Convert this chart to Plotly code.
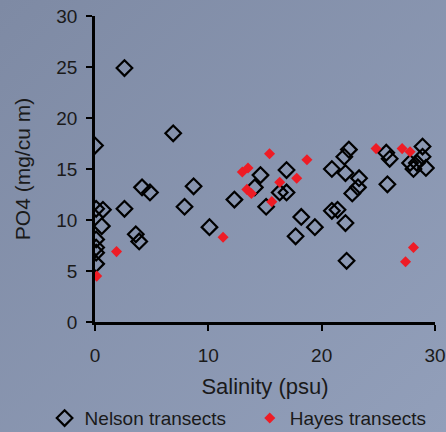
import base64
import plotly.graph_objects as go

# Nelson transects (open diamonds)
nelson_salinity = [0.0, 2.6, 6.9, 0.1, 0.7, 2.6, 4.15, 4.85, 8.7, 7.9, 10.1, 0.6, 0.1, 0.1, 0.1, 0.1,
                   3.6, 3.9, 14.6, 14.1, 16.9, 16.3, 16.9, 15.1, 12.3, 18.2, 19.4, 17.7,
                   22.4, 22.0, 20.9, 22.1, 23.3, 23.2, 22.7, 25.8, 25.7, 26.0, 28.9, 28.9,
                   28.4, 28.1, 29.2, 27.8, 20.9, 21.4, 22.1, 22.2]
nelson_po4 = [17.3, 24.9, 18.5, 11.1, 11.0, 11.1, 13.2, 12.7, 13.3, 11.3, 9.3, 9.4, 8.1, 7.3, 6.8, 5.7,
              8.6, 7.9, 14.4, 13.2, 14.9, 12.7, 12.7, 11.3, 12.0, 10.3, 9.3, 8.4,
              16.9, 16.2, 15.0, 14.6, 14.1, 13.2, 12.6, 13.5, 16.6, 16.0, 17.2, 16.2,
              15.6, 15.0, 15.1, 15.6, 10.9, 11.0, 9.7, 6.0]

# Hayes transects (filled red diamonds)
hayes_salinity = [0.15, 1.9, 11.3, 13.0, 13.5, 13.4, 13.8, 15.4, 15.6, 16.3, 17.8, 18.7,
                  24.8, 27.1, 27.8, 28.1, 27.4]
hayes_po4 = [4.5, 6.9, 8.3, 14.7, 15.1, 13.0, 12.6, 16.5, 11.8, 13.7, 14.1, 15.9,
             17.0, 17.0, 16.7, 7.3, 5.9]

x_ticks = [0, 10, 20, 30]
y_ticks = [0, 5, 10, 15, 20, 25, 30]

font = "Liberation Sans, Arial, sans-serif"

svg = ('<svg xmlns="http://www.w3.org/2000/svg" width="446" height="432">'
       '<defs><linearGradient id="g" x1="0" y1="0" x2="1" y2="1">'
       '<stop offset="0" stop-color="#7E8AA4"/><stop offset="1" stop-color="#929FBA"/>'
       '</linearGradient></defs><rect width="446" height="432" fill="url(#g)"/></svg>')
bg_uri = "data:image/svg+xml;base64," + base64.b64encode(svg.encode()).decode()

fig = go.Figure()
fig.add_trace(go.Scatter(
    x=nelson_salinity, y=nelson_po4, mode="markers", name="Nelson transects",
    marker=dict(symbol="diamond-open", size=12, color="#000000", line=dict(width=2.2, color="#000000")),
    legend="legend",
))
fig.add_trace(go.Scatter(
    x=hayes_salinity, y=hayes_po4, mode="markers", name="Hayes transects",
    marker=dict(symbol="diamond", size=8.5, color="#EE1C25", line=dict(width=0)),
    legend="legend2",
))

leg_common = dict(orientation="h", xref="container", yref="container",
                  xanchor="left", y=0.032, yanchor="middle",
                  bgcolor="rgba(0,0,0,0)", font=dict(size=19), itemwidth=30)

fig.update_layout(
    width=446, height=432,
    margin=dict(l=95, r=11, t=16, b=110, autoexpand=False),
    paper_bgcolor="#8893AD",
    plot_bgcolor="rgba(0,0,0,0)",
    font=dict(family=font, size=19, color="#1a1a1a"),
    showlegend=True,
    legend=dict(x=0.10, **leg_common),
    legend2=dict(x=0.56, **leg_common),
    images=[dict(source=bg_uri, xref="paper", yref="paper", x=-95/340, y=1 + 16/306,
                 sizex=446/340, sizey=432/306, xanchor="left", yanchor="top",
                 sizing="stretch", layer="below")],
)
fig.update_xaxes(
    range=[0, 30], tickvals=x_ticks, ticktext=[str(v) for v in x_ticks],
    showgrid=False, zeroline=False, showline=True, linecolor="#000000", linewidth=2.5,
    ticks="outside", ticklen=6, tickwidth=2, tickcolor="#000000",
    title=dict(text="Salinity (psu)", font=dict(size=22), standoff=18),
    tickfont=dict(size=19), ticklabelstandoff=8,
)
fig.update_yaxes(
    range=[0, 30], tickvals=y_ticks, ticktext=[str(v) for v in y_ticks],
    showgrid=False, zeroline=False, showline=True, linecolor="#000000", linewidth=2.5,
    ticks="outside", ticklen=6, tickwidth=2, tickcolor="#000000",
    title=dict(text="PO4 (mg/cu m)", font=dict(size=21), standoff=20),
    tickfont=dict(size=19), ticklabelstandoff=5,
)

fig.write_html("out.html")
